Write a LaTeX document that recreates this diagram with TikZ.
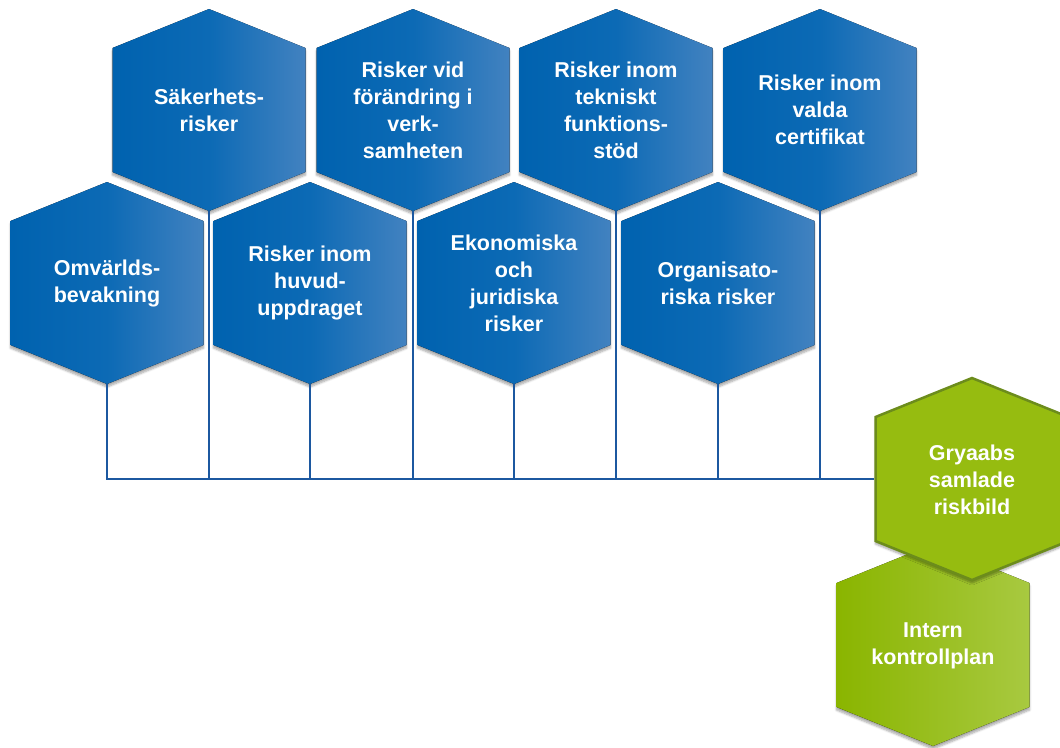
\documentclass[tikz,border=0pt]{standalone}
\usepackage{fontspec}
\setmainfont{Liberation Sans}
\usetikzlibrary{shadows.blur}

\definecolor{hexblueL}{RGB}{0,98,175}
\definecolor{hexblueM}{RGB}{12,106,181}
\definecolor{hexblueR}{RGB}{66,130,192}
\definecolor{linkblue}{RGB}{28,88,160}
\definecolor{greenfill}{RGB}{150,188,16}
\definecolor{greenedge}{RGB}{108,140,28}
\definecolor{greenL}{RGB}{138,181,0}
\definecolor{greenR}{RGB}{168,201,64}

\tikzset{
    hexshadow/.style={blur shadow={shadow xshift=0pt, shadow yshift=-3pt, shadow opacity=35, shadow blur steps=6}},
    hexblue/.style={left color=hexblueL, right color=hexblueR, middle color=hexblueM, hexshadow},
    hextext/.style={text=white, align=center, font=\bfseries\fontsize{21.5}{27}\selectfont},
    link/.style={draw=linkblue, line width=1.6pt},
}

\begin{document}
\begin{tikzpicture}[x=1pt, y=-1pt]
    \useasboundingbox (0,0) rectangle (1060,747);

    % blue risk hexagons, top row then bottom row
    \foreach \name/\cx/\cy/\txt in {
        saker/209/110/{Säkerhets-\\risker},
        forand/413/110/{Risker vid\\förändring i\\verk-\\samheten},
        tekn/616/110/{Risker inom\\tekniskt\\funktions-\\stöd},
        cert/820/110/{Risker inom\\valda\\certifikat},
        omv/107/283/{Omvärlds-\\bevakning},
        huvud/310/283/{Risker inom\\huvud-\\uppdraget},
        ekon/514/283/{Ekonomiska\\och\\juridiska\\risker},
        org/718/283/{Organisato-\\riska risker}} {
        \fill[hexblue] (\cx,\cy-101) -- (\cx+96.5,\cy-62) -- (\cx+96.5,\cy+62) -- (\cx,\cy+101)
            -- (\cx-96.5,\cy+62) -- (\cx-96.5,\cy-62) -- cycle;
        \node[hextext] (\name) at (\cx,\cy) {\txt};
        \coordinate (\name-b) at (\cx,\cy+101);
    }

    % green hexagons
    \fill[left color=greenL, right color=greenR, hexshadow] (933,544) -- (1029.5,583) -- (1029.5,707)
        -- (933,746) -- (836.5,707) -- (836.5,583) -- cycle;
    \node[hextext] (intern) at (933,646) {Intern\\kontrollplan};

    \filldraw[fill=greenfill, draw=greenedge, line width=2.5pt, hexshadow] (972,378) -- (1068.5,417)
        -- (1068.5,541) -- (972,580) -- (875.5,541) -- (875.5,417) -- cycle;
    \node[hextext] (gry) at (972,480) {Gryaabs\\samlade\\riskbild};
    \coordinate (gry-w) at (874,479);

    % connectors
    \draw[link] (omv-b) |- (gry-w);
    \foreach \n in {saker,huvud,forand,ekon,tekn,org,cert}
        \draw[link] (\n-b) -- (\n-b |- gry-w);

\end{tikzpicture}
\end{document}
